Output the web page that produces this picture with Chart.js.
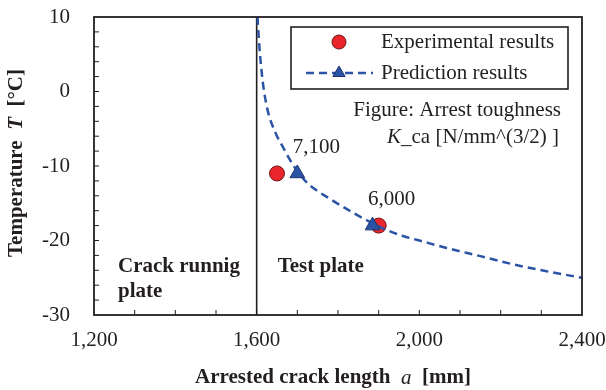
<!DOCTYPE html>
<html>
<head>
<meta charset="utf-8">
<script src="https://cdn.jsdelivr.net/npm/chart.js@4.4.0/dist/chart.umd.min.js"></script>
<style>
  body { margin: 0; background: #fff; }
  #wrap { width: 606px; height: 390px; }
</style>
</head>
<body>
<div id="wrap"><canvas id="js_crackChart" width="606" height="390"></canvas></div>
<script>
/* eslint-disable no-undef */
// values
const experimentalX = [1650, 1900];
const experimentalT = [-11, -18];
const predictionX = [1700, 1885];
const predictionT = [-11, -18];
const predictionLabels = ['7,100', '6,000'];
const curveX = [1602, 1607, 1615, 1626, 1645, 1666, 1690, 1723, 1780, 1838, 1885, 1920, 1960, 2000, 2067, 2150, 2231, 2310, 2400];
const curveT = [10, 5.8, 1.3, -2.3, -5.4, -7.6, -9.9, -12.2, -14.4, -16.3, -17.7, -18.6, -19.4, -20.0, -21.0, -22.1, -23.2, -24.1, -25];
const plateBoundary = 1600;

const serif = '"Liberation Serif", "Times New Roman", serif';
const ink = '#231f20';
const red = 'rgb(234,38,44)';
const redEdge = 'rgb(110,20,20)';
const blue = 'rgb(44,84,166)';
const blueEdge = 'rgb(28,52,112)';
const dash = [8, 5];

const toPoints = (xs, ys) => xs.map((x, i) => ({ x, y: ys[i] }));

const richText = (ctx, runs, x, y, align) => {
  let total = 0;
  runs.forEach((r) => { ctx.font = r.font; total += ctx.measureText(r.text).width; });
  let cx = x;
  if (align === 'center') cx = x - total / 2;
  if (align === 'right') cx = x - total;
  ctx.textAlign = 'left';
  runs.forEach((r) => {
    ctx.font = r.font;
    ctx.fillText(r.text, cx, y);
    cx += ctx.measureText(r.text).width;
  });
};

const fixBox = (scale, size) => {
  if (scale.isHorizontal()) scale.height = size;
  else scale.width = size;
  scale.paddingTop = 0;
  scale.paddingBottom = 0;
  scale.paddingLeft = 0;
  scale.paddingRight = 0;
};

const decorations = {
  id: 'decorations',
  beforeDatasetsDraw(chart) {
    const { ctx, chartArea: a, scales: { x } } = chart;
    ctx.save();
    ctx.strokeStyle = ink;
    // plate boundary
    ctx.lineWidth = 1.6;
    const bx = x.getPixelForValue(plateBoundary);
    ctx.beginPath();
    ctx.moveTo(bx, a.top);
    ctx.lineTo(bx, a.bottom);
    ctx.stroke();
    ctx.restore();
  },
  afterDatasetsDraw(chart) {
    const { ctx, chartArea: a, scales: { x, y } } = chart;
    ctx.save();
    ctx.strokeStyle = ink;
    ctx.fillStyle = ink;

    // frame
    ctx.lineWidth = 1.8;
    ctx.strokeRect(a.left, a.top, a.right - a.left, a.bottom - a.top);

    // inward ticks
    ctx.lineWidth = 1;
    ctx.beginPath();
    for (let v = x.min + 100; v < x.max; v += 100) {
      const px = x.getPixelForValue(v);
      ctx.moveTo(px, a.bottom);
      ctx.lineTo(px, a.bottom - 5);
    }
    for (let v = y.min + 2; v < y.max; v += 2) {
      const py = y.getPixelForValue(v);
      ctx.moveTo(a.left, py);
      ctx.lineTo(a.left + 5, py);
    }
    ctx.stroke();

    ctx.textBaseline = 'middle';

    // point labels
    ctx.font = `21px ${serif}`;
    ctx.textAlign = 'center';
    predictionLabels.forEach((label, i) => {
      const px = x.getPixelForValue(predictionX[i]);
      const py = y.getPixelForValue(predictionT[i]);
      ctx.fillText(label, px + 19, py - 26);
    });

    // plate names
    const bx = x.getPixelForValue(plateBoundary);
    ctx.font = `bold 21px ${serif}`;
    ctx.textAlign = 'left';
    ctx.fillText('Crack runnig', a.left + 24, a.bottom - 48);
    ctx.fillText('plate', a.left + 24, a.bottom - 23);
    ctx.fillText('Test plate', bx + 21, a.bottom - 48);

    // legend box
    const lx = a.left + 197;
    const ly = a.top + 10;
    const lw = a.right - 14 - lx;
    const lh = 62;
    ctx.fillStyle = '#fff';
    ctx.fillRect(lx, ly, lw, lh);
    ctx.lineWidth = 1.6;
    ctx.strokeRect(lx, ly, lw, lh);

    ctx.beginPath();
    ctx.arc(lx + 48, ly + 15, 7, 0, Math.PI * 2);
    ctx.fillStyle = red;
    ctx.fill();
    ctx.lineWidth = 1;
    ctx.strokeStyle = redEdge;
    ctx.stroke();

    ctx.save();
    ctx.setLineDash(dash);
    ctx.strokeStyle = blue;
    ctx.lineWidth = 2.5;
    ctx.beginPath();
    ctx.moveTo(lx + 15, ly + 46);
    ctx.lineTo(lx + 82, ly + 46);
    ctx.stroke();
    ctx.restore();
    const tr = 7;
    ctx.beginPath();
    ctx.moveTo(lx + 48, ly + 46 - tr);
    ctx.lineTo(lx + 48 + tr * 0.87, ly + 46 + tr * 0.5);
    ctx.lineTo(lx + 48 - tr * 0.87, ly + 46 + tr * 0.5);
    ctx.closePath();
    ctx.fillStyle = blue;
    ctx.fill();
    ctx.strokeStyle = blueEdge;
    ctx.lineWidth = 1;
    ctx.stroke();

    ctx.fillStyle = ink;
    ctx.font = `21px ${serif}`;
    ctx.textAlign = 'left';
    ctx.fillText('Experimental results', lx + 90, ly + 15);
    ctx.fillText('Prediction results', lx + 90, ly + 46);

    // figure note
    ctx.textAlign = 'right';
    ctx.fillText('Figure: Arrest toughness', a.right - 21, a.top + 93);
    richText(ctx, [
      { text: 'K', font: `italic 21px ${serif}` },
      { text: '_ca [N/mm^(3/2) ]', font: `21px ${serif}` },
    ], a.right - 23, a.top + 120, 'right');

    // axis titles
    richText(ctx, [
      { text: 'Arrested crack length  ', font: `bold 21px ${serif}` },
      { text: 'a', font: `italic 21px ${serif}` },
      { text: '  [mm]', font: `bold 21px ${serif}` },
    ], (a.left + a.right) / 2 - 5, 378, 'center');

    ctx.translate(17, (a.top + a.bottom) / 2 - 3);
    ctx.rotate(-Math.PI / 2);
    richText(ctx, [
      { text: 'Temperature  ', font: `bold 21px ${serif}` },
      { text: 'T', font: `bold italic 21px ${serif}` },
      { text: '  [\u00b0C]', font: `bold 21px ${serif}` },
    ], 0, 0, 'center');
    ctx.restore();
  },
};

document.addEventListener('DOMContentLoaded', () => {
  const ctx = document.getElementById('js_crackChart');
  const tickFont = { family: serif, size: 21 };

  // eslint-disable-next-line no-new
  new Chart(ctx, {
    type: 'scatter',
    data: {
      datasets: [
        {
          label: 'Prediction results',
          data: toPoints(predictionX, predictionT),
          pointStyle: 'triangle',
          pointRadius: 8.5,
          backgroundColor: blue,
          borderColor: blueEdge,
          borderWidth: 1,
          order: 0,
        },
        {
          label: 'Prediction curve',
          data: toPoints(curveX, curveT),
          showLine: true,
          pointRadius: 0,
          borderColor: blue,
          borderWidth: 2.5,
          borderDash: dash,
          cubicInterpolationMode: 'monotone',
          order: 1,
        },
        {
          label: 'Experimental results',
          data: toPoints(experimentalX, experimentalT),
          pointStyle: 'circle',
          pointRadius: 7.5,
          backgroundColor: red,
          borderColor: redEdge,
          borderWidth: 1,
          order: 2,
        },
      ],
    },
    options: {
      responsive: false,
      animation: false,
      layout: { padding: { left: 0, top: 17, right: 24, bottom: 0 } },
      plugins: { legend: { display: false }, tooltip: { enabled: false } },
      scales: {
        x: {
          type: 'linear',
          min: 1200,
          max: 2400,
          grid: { display: false, drawTicks: false },
          border: { display: false },
          ticks: {
            stepSize: 400,
            padding: 13,
            color: ink,
            font: tickFont,
            maxRotation: 0,
            callback: (v) => v.toLocaleString('en-US'),
          },
          afterFit: (scale) => fixBox(scale, 75),
        },
        y: {
          type: 'linear',
          min: -30,
          max: 10,
          grid: { display: false, drawTicks: false },
          border: { display: false },
          ticks: {
            stepSize: 10,
            padding: 24,
            color: ink,
            font: tickFont,
          },
          afterFit: (scale) => fixBox(scale, 94),
        },
      },
    },
    plugins: [decorations],
  });
});
</script>
</body>
</html>
